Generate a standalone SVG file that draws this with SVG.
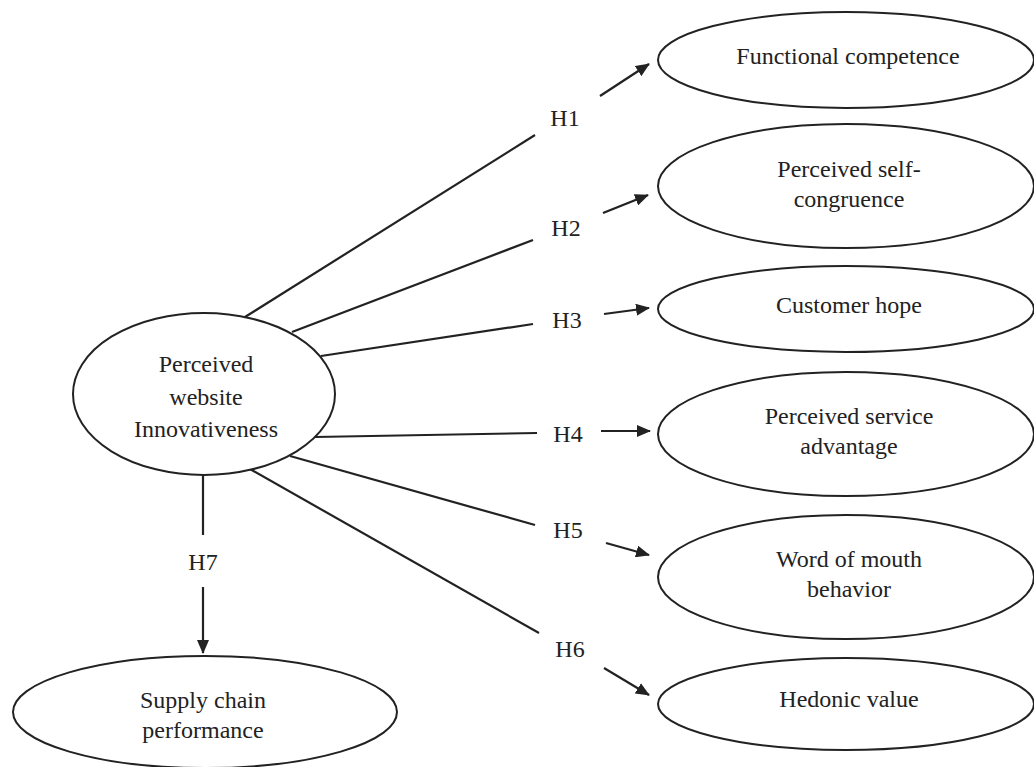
<svg xmlns="http://www.w3.org/2000/svg" width="1034" height="767" viewBox="0 0 1034 767">
<defs>
<marker id="arr" markerUnits="userSpaceOnUse" markerWidth="14" markerHeight="12" refX="13" refY="6" orient="auto">
<path d="M0,0 L14,6 L0,12 Z" fill="#222"/>
</marker>
<style>
.node ellipse{fill:#fff;stroke:#222;stroke-width:2}
.c line{stroke:#222;stroke-width:2.2}
.a{marker-end:url(#arr)}
</style>
</defs>
<rect width="1034" height="767" fill="#fff"/>
<g font-family="Liberation Serif, DejaVu Serif, serif" font-size="24" fill="#222" text-anchor="middle">
<g class="c" id="connectors">
<line x1="245" y1="317" x2="535" y2="135"/>
<line class="a" x1="600" y1="96" x2="649" y2="64"/>
<line x1="292" y1="332" x2="533" y2="240"/>
<line class="a" x1="603" y1="213" x2="648" y2="195"/>
<line x1="321" y1="356" x2="533" y2="324"/>
<line class="a" x1="604" y1="314" x2="649" y2="308"/>
<line x1="315" y1="437" x2="537" y2="433"/>
<line class="a" x1="601" y1="431" x2="650" y2="431"/>
<line x1="290" y1="456" x2="535" y2="525"/>
<line class="a" x1="606" y1="543" x2="649" y2="555"/>
<line x1="250" y1="469" x2="539" y2="633"/>
<line class="a" x1="604" y1="668" x2="649" y2="695"/>
<line x1="203" y1="474" x2="203" y2="535"/>
<line class="a" x1="203" y1="587" x2="203" y2="653"/>
<text x="565" y="126">H1</text>
<text x="566" y="236">H2</text>
<text x="567" y="328">H3</text>
<text x="568" y="442">H4</text>
<text x="568" y="538">H5</text>
<text x="570" y="657">H6</text>
<text x="203" y="570">H7</text>
</g>
<g class="node" id="pwi">
<ellipse cx="204" cy="394" rx="131" ry="81"/>
<text x="206" y="372">Perceived</text>
<text x="206" y="405">website</text>
<text x="206" y="437">Innovativeness</text>
</g>
<g class="node" id="fc">
<ellipse cx="846" cy="60" rx="188" ry="48"/>
<text x="848" y="64">Functional competence</text>
</g>
<g class="node" id="psc">
<ellipse cx="846" cy="186" rx="188" ry="62"/>
<text x="849" y="177">Perceived self-</text>
<text x="849" y="207">congruence</text>
</g>
<g class="node" id="ch">
<ellipse cx="846" cy="309" rx="188" ry="43"/>
<text x="849" y="313">Customer hope</text>
</g>
<g class="node" id="psa">
<ellipse cx="846" cy="434" rx="188" ry="62"/>
<text x="849" y="424">Perceived service</text>
<text x="849" y="454">advantage</text>
</g>
<g class="node" id="wom">
<ellipse cx="846" cy="577" rx="188" ry="62"/>
<text x="849" y="567">Word of mouth</text>
<text x="849" y="597">behavior</text>
</g>
<g class="node" id="hv">
<ellipse cx="846" cy="704" rx="188" ry="46"/>
<text x="849" y="707">Hedonic value</text>
</g>
<g class="node" id="scp">
<ellipse cx="205" cy="712" rx="192" ry="56"/>
<text x="203" y="708">Supply chain</text>
<text x="203" y="738">performance</text>
</g>
</g>
</svg>
